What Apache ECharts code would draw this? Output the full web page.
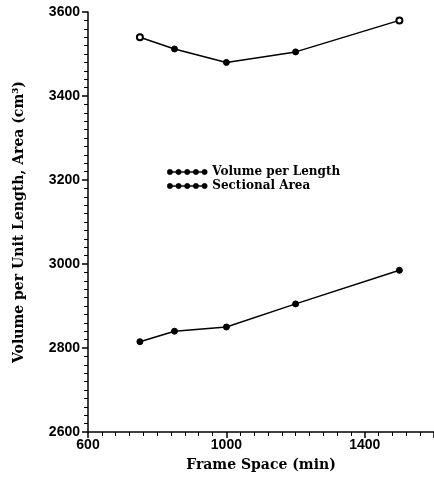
<!DOCTYPE html>
<html lang="en">
<head>
    <meta charset="UTF-8">
    <title>frame space</title>
    <script src="https://cdn.jsdelivr.net/npm/echarts@6/dist/echarts.min.js"></script>
    <style>body{margin:0;background:#fff;}</style>
</head>
<body>
<div id="main" style="width:434px;height:479px;"></div>
<script type="text/javascript">
    // data
    var frameSpace = [750, 850, 1000, 1200, 1500];
    var volumePerLength = [3540, 3512, 3480, 3505, 3580];
    var sectionalArea = [2815, 2840, 2850, 2905, 2985];
    var seriesNames = ['Volume per Length', 'Sectional Area'];

    var myChart = echarts.init(document.getElementById('main'));

    function pairs(ys, openEnds) {
        var out = [];
        for (var i = 0; i < ys.length; i++) {
            var p = {value: [frameSpace[i], ys[i]]};
            if (openEnds && (i == 0 || i == ys.length - 1)) {
                p.symbol = 'emptyCircle';
            }
            out.push(p);
        }
        return out;
    }

    // legend glyph: a line strung with five dots
    var dotLine = 'path://M2,2.4h36v1.2h-36z';
    for (var k = 0; k < 5; k++) {
        var cx = 3 + k * 8.5;
        dotLine += 'M' + (cx - 2.6) + ',3a2.6,2.6 0 1,1 5.2,0a2.6,2.6 0 1,1 -5.2,0z';
    }

    var labelFont = {color: '#000', fontFamily: 'Liberation Sans', fontWeight: 'bold', fontSize: 14};
    var nameFont = {color: '#000', fontFamily: 'DejaVu Serif', fontWeight: 'bold', fontSize: 14};
    var plain = function (v) { return String(v); };

    var option = {
        animation: false,
        backgroundColor: '#fff',
        grid: {left: 88, right: 0, top: 12, bottom: 47},
        legend: {
            data: [
                {name: seriesNames[0], icon: dotLine},
                {name: seriesNames[1], icon: dotLine}
            ],
            orient: 'vertical',
            left: 162,
            top: 161,
            itemWidth: 40,
            itemHeight: 6,
            itemGap: 2,
            itemStyle: {color: '#000', borderColor: '#000', borderWidth: 0.5},
            textStyle: {color: '#000', fontFamily: 'DejaVu Serif', fontWeight: 'bold', fontSize: 12}
        },
        xAxis: {
            type: 'value',
            min: 600,
            max: 1600,
            interval: 400,
            name: 'Frame Space (min)',
            nameLocation: 'middle',
            nameGap: 26,
            nameTextStyle: nameFont,
            axisLine: {lineStyle: {color: '#000', width: 1.5}},
            axisTick: {length: 6, lineStyle: {color: '#000', width: 1.5}},
            minorTick: {show: true, splitNumber: 10, length: 4, lineStyle: {color: '#000'}},
            axisLabel: Object.assign({margin: 6, showMaxLabel: false, formatter: plain}, labelFont),
            splitLine: {show: false}
        },
        yAxis: {
            type: 'value',
            min: 2600,
            max: 3600,
            interval: 200,
            name: 'Volume per Unit Length, Area (cm³)',
            nameLocation: 'middle',
            nameGap: 62,
            nameTextStyle: nameFont,
            axisLine: {show: true, lineStyle: {color: '#000', width: 1.5}},
            axisTick: {show: true, length: 6, lineStyle: {color: '#000', width: 1.5}},
            minorTick: {show: true, splitNumber: 10, length: 4, lineStyle: {color: '#000'}},
            axisLabel: Object.assign({margin: 8, formatter: plain}, labelFont),
            splitLine: {show: false}
        },
        series: [
            {
                name: seriesNames[0],
                type: 'line',
                symbol: 'circle',
                symbolSize: 6,
                lineStyle: {color: '#000', width: 1.5},
                itemStyle: {color: '#000', borderColor: '#000'},
                data: pairs(volumePerLength, true)
            },
            {
                name: seriesNames[1],
                type: 'line',
                symbol: 'circle',
                symbolSize: 6,
                lineStyle: {color: '#000', width: 1.5},
                itemStyle: {color: '#000', borderColor: '#000'},
                data: pairs(sectionalArea, false)
            }
        ]
    };
    myChart.setOption(option);
</script>
</body>
</html>
